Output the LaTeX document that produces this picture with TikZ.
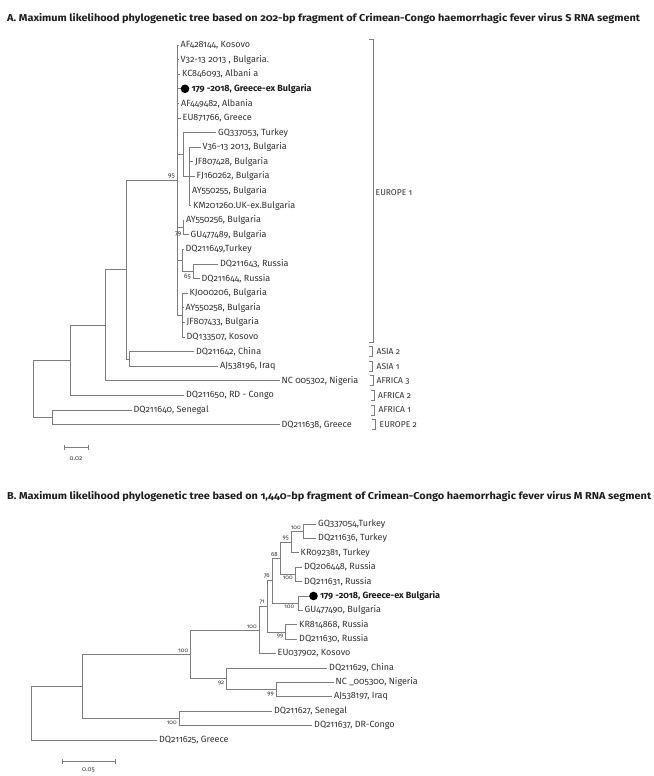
\documentclass[tikz,border=0pt]{standalone}
\usepackage{fontspec}
\setmainfont{Fira Sans}[Numbers=OldStyle]
\usepackage{graphicx}
\definecolor{lc}{RGB}{125,125,125}
\definecolor{tc}{RGB}{50,50,50}
\definecolor{hc}{RGB}{30,30,30}
\newlength\titlewd
\newcommand\myTitleA{A. Maximum likelihood phylogenetic tree based on 202-bp fragment of Crimean-Congo haemorrhagic fever virus S RNA segment}
\newcommand\myTitleB{B. Maximum likelihood phylogenetic tree based on 1,440-bp fragment of Crimean-Congo haemorrhagic fever virus M RNA segment}
\newcommand\mytitlefont{\fontsize{10}{12}\selectfont\bfseries}
\begin{document}
\settowidth{\titlewd}{\mytitlefont\myTitleA}%
\pgfmathsetmacro\tscale{633/\titlewd}%
\begin{tikzpicture}[x=1pt,y=-1pt,
  branch/.style={draw=lc,line width=0.75pt},
  tip/.style={anchor=west,inner xsep=2pt,inner ysep=0pt,font=\fontsize{9}{10}\selectfont,text=tc},
  tipbold/.style={tip,font=\fontsize{9}{10}\selectfont\bfseries,text=hc},
  dotnode/.style={circle,fill=black,inner sep=0pt,minimum size=8.6pt},
  bootA/.style={inner sep=0.6pt,font=\fontsize{6.5}{7}\selectfont,text=tc},
  bootB/.style={inner sep=0.6pt,font=\fontsize{6}{7}\selectfont,text=tc},
  cladelbl/.style={anchor=west,inner sep=0pt,font=\fontsize{8.5}{9}\selectfont,text=tc},
  brk/.style={draw=lc,line width=0.7pt},
  scalelbl/.style={inner sep=0pt,font=\fontsize{6.5}{7}\selectfont,text=tc}]
\useasboundingbox (0,0) rectangle (653,776);
\fill[white] (0,0) rectangle (653,776);
\node[anchor=west,inner sep=0pt,text=hc] (titleA) at (7,18.3) {\scalebox{\tscale}[1]{\mytitlefont\myTitleA}};
\node[anchor=west,inner sep=0pt,text=hc] (titleB) at (7,497) {\scalebox{\tscale}[1]{\mytitlefont\myTitleB}};

% ---------------- Tree A ----------------
\coordinate (R) at (33,388.8);
\coordinate (A1) at (70.7,360.3);
\coordinate (A2) at (52.7,417.3);
\coordinate (B) at (105,325.1);
\coordinate (C) at (126.7,269.5);
\coordinate (E) at (129.3,358.9);
\coordinate (D) at (177,180.05);
\coordinate (F) at (183,154.5);
\coordinate (G) at (189,176.4);
\coordinate (H) at (183,227.5);
\coordinate (I) at (182,260.35);
\coordinate (J) at (193,271.3);
\coordinate (K) at (182,315.1);

\node[tip] (a0) at (178.5,45.0) {AF428144, Kosovo};
\node[tip] (a1) at (178.5,59.6) {V32-13 2013 , Bulgaria.};
\node[tip] (a2) at (180,74.2) {KC846093, Albani a};
\node[tipbold] (a3) at (189.3,88.8) {179 -2018, Greece-ex Bulgaria};
\node[tip] (a4) at (179,103.4) {AF449482, Albania};
\node[tip] (a5) at (180.5,118.0) {EU871766, Greece};
\node[tip] (a6) at (216,132.6) {GQ337053, Turkey};
\node[tip] (a7) at (200.5,147.2) {V36-13 2013, Bulgaria};
\node[tip] (a8) at (193,161.8) {JF807428, Bulgaria};
\node[tip] (a9) at (194.5,176.4) {FJ160262, Bulgaria};
\node[tip] (a10) at (190,191.0) {AY550255, Bulgaria};
\node[tip] (a11) at (191,205.6) {KM201260.UK-ex.Bulgaria};
\node[tip] (a12) at (184,220.2) {AY550256, Bulgaria};
\node[tip] (a13) at (188.5,234.8) {GU477489, Bulgaria};
\node[tip] (a14) at (183.5,249.4) {DQ211649,Turkey};
\node[tip] (a15) at (218,264.0) {DQ211643, Russia};
\node[tip] (a16) at (199.5,278.6) {DQ211644, Russia};
\node[tip] (a17) at (187.5,293.2) {KJ000206, Bulgaria};
\node[tip] (a18) at (183.5,307.8) {AY550258, Bulgaria};
\node[tip] (a19) at (184.5,322.4) {JF807433, Bulgaria};
\node[tip] (a20) at (184.5,337.0) {DQ133507, Kosovo};
\node[tip] (a21) at (194,351.6) {DQ211642, China};
\node[tip] (a22) at (218,366.2) {AJ538196, Iraq};
\node[tip] (a23) at (279.5,380.8) {NC 005302, Nigeria};
\node[tip] (a24) at (184,395.4) {DQ211650, RD - Congo};
\node[tip] (a25) at (131.5,410.0) {DQ211640, Senegal};
\node[tip] (a26) at (279.5,424.6) {DQ211638, Greece};
\coordinate (adotc) at (185,88.8);

\draw[branch] (R) |- (A1);
\draw[branch] (R) |- (A2);
\draw[branch] (A1) |- (B);
\draw[branch] (A1) |- (a24.west);
\draw[branch] (B) |- (C);
\draw[branch] (B) |- (a23.west);
\draw[branch] (C) |- (D);
\draw[branch] (C) |- (E);
\draw[branch] (E) |- (a21.west);
\draw[branch] (E) |- (a22.west);
\draw[branch] (A2) |- (a25.west);
\draw[branch] (A2) |- (a26.west);
\foreach \t in {a0,a1,a2,a4,a5} \draw[branch] (D) |- (\t.west);
\draw[branch] (D) |- (adotc);
\draw[branch] (D) |- (F);
\draw[branch] (D) |- (H);
\draw[branch] (D) |- (I);
\draw[branch] (D) |- (K);
\draw[branch] (F) |- (a6.west);
\draw[branch] (F) |- (G);
\foreach \t in {a7,a8,a9,a10,a11} \draw[branch] (G) |- (\t.west);
\draw[branch] (H) |- (a12.west);
\draw[branch] (H) |- (a13.west);
\draw[branch] (I) |- (a14.west);
\draw[branch] (I) |- (J);
\draw[branch] (J) |- (a15.west);
\draw[branch] (J) |- (a16.west);
\foreach \t in {a17,a18,a19,a20} \draw[branch] (K) |- (\t.west);
\node[dotnode] (adot) at (adotc) {};

\node[bootA,anchor=south east] (bs95) at (175.5,179) {95};
\node[bootA,anchor=north east] (bs79) at (182,230.5) {79};
\node[bootA,anchor=north east] (bs65) at (191.5,273.5) {65};

% clade brackets A
\draw[brk] (369,39) -- (373,39) -- (373,342) -- (369,342);
\node[cladelbl] (eu1) at (375.5,192.7) {EUROPE 1};
\draw[brk] (368.5,346.6) -- (372,346.6) -- (372,356.6) -- (368.5,356.6);
\node[cladelbl] (as2) at (376.5,351.6) {ASIA 2};
\draw[brk] (368.5,361.2) -- (372,361.2) -- (372,371.2) -- (368.5,371.2);
\node[cladelbl] (as1) at (376.5,366.2) {ASIA 1};
\draw[brk] (369.5,375.8) -- (373,375.8) -- (373,385.8) -- (369.5,385.8);
\node[cladelbl] (af3) at (376.5,380.8) {AFRICA 3};
\draw[brk] (370.5,390.4) -- (374,390.4) -- (374,400.4) -- (370.5,400.4);
\node[cladelbl] (af2) at (378,395.4) {AFRICA 2};
\draw[brk] (370.5,405) -- (374,405) -- (374,415) -- (370.5,415);
\node[cladelbl] (af1) at (378.5,410) {AFRICA 1};
\draw[brk] (371.5,419.6) -- (375,419.6) -- (375,429.6) -- (371.5,429.6);
\node[cladelbl] (eu2) at (379.5,424.6) {EUROPE 2};

% scale bar A
\coordinate (sa1) at (64,447.5);
\coordinate (sa2) at (88,447.5);
\draw[branch] (sa1) -- (sa2);
\draw[branch] ([yshift=2.5pt]sa1) -- ([yshift=-2.5pt]sa1);
\draw[branch] ([yshift=2.5pt]sa2) -- ([yshift=-2.5pt]sa2);
\node[scalelbl] (sla) at (76,458.5) {0.02};

% ---------------- Tree B ----------------
\coordinate (RB) at (31.7,713.2);
\coordinate (NX) at (82.7,686.4);
\coordinate (N100b) at (190.7,654.4);
\coordinate (N100d) at (179,718.4);
\coordinate (N100a) at (259.3,630);
\coordinate (N92) at (226.7,678.8);
\coordinate (N99) at (276,689.6);
\coordinate (N71) at (267,606.35);
\coordinate (N76) at (272,580.7);
\coordinate (NKR) at (285.7,632);
\coordinate (N68) at (280,558.2);
\coordinate (Ndot) at (298,603.2);
\coordinate (N95) at (291,542);
\coordinate (NRus) at (295,574.4);
\coordinate (N100c) at (303.3,531.2);

\node[tip] (b0) at (316,524.0) {GQ337054,Turkey};
\node[tip] (b1) at (316,538.4) {DQ211636, Turkey};
\node[tip] (b2) at (298.5,552.8) {KR092381, Turkey};
\node[tip] (b3) at (302,567.2) {DQ206448, Russia};
\node[tip] (b4) at (302,581.6) {DQ211631, Russia};
\node[tipbold] (b5) at (317.8,596.0) {179 -2018, Greece-ex Bulgaria};
\node[tip] (b6) at (302.5,610.4) {GU477490, Bulgaria};
\node[tip] (b7) at (297,624.8) {KR814868, Russia};
\node[tip] (b8) at (297,639.2) {DQ211630, Russia};
\node[tip] (b9) at (275.5,653.6) {EU037902, Kosovo};
\node[tip] (b10) at (327,668.0) {DQ211629, China};
\node[tip] (b11) at (333.5,682.4) {NC \_005300, Nigeria};
\node[tip] (b12) at (332,696.8) {AJ538197, Iraq};
\node[tip] (b13) at (272,711.2) {DQ211627, Senegal};
\node[tip] (b14) at (312,725.6) {DQ211637, DR-Congo};
\node[tip] (b15) at (157,740.0) {DQ211625, Greece};
\coordinate (bdotc) at (313.5,596.0);

\draw[branch] (RB) |- (NX);
\draw[branch] (RB) |- (b15.west);
\draw[branch] (NX) |- (N100b);
\draw[branch] (NX) |- (N100d);
\draw[branch] (N100b) |- (N100a);
\draw[branch] (N100b) |- (N92);
\draw[branch] (N100a) |- (N71);
\draw[branch] (N100a) |- (b9.west);
\draw[branch] (N71) |- (N76);
\draw[branch] (N71) |- (NKR);
\draw[branch] (N76) |- (N68);
\draw[branch] (N76) |- (Ndot);
\draw[branch] (N68) |- (N95);
\draw[branch] (N68) |- (NRus);
\draw[branch] (N95) |- (N100c);
\draw[branch] (N95) |- (b2.west);
\draw[branch] (N100c) |- (b0.west);
\draw[branch] (N100c) |- (b1.west);
\draw[branch] (NRus) |- (b3.west);
\draw[branch] (NRus) |- (b4.west);
\draw[branch] (Ndot) |- (bdotc);
\draw[branch] (Ndot) |- (b6.west);
\draw[branch] (NKR) |- (b7.west);
\draw[branch] (NKR) |- (b8.west);
\draw[branch] (N92) |- (b10.west);
\draw[branch] (N92) |- (N99);
\draw[branch] (N99) |- (b11.west);
\draw[branch] (N99) |- (b12.west);
\draw[branch] (N100d) |- (b13.west);
\draw[branch] (N100d) |- (b14.west);
\node[dotnode] (bdot) at (bdotc) {};

\node[bootB,anchor=south east] (bb1) at (301.5,530) {100};
\node[bootB,anchor=south east] (bb2) at (289.5,541) {95};
\node[bootB,anchor=south east] (bb3) at (278.5,557) {68};
\node[bootB,anchor=south east] (bb4) at (270.5,579) {76};
\node[bootB,anchor=south east] (bb5) at (265.5,605) {71};
\node[bootB,anchor=north east] (bb6) at (293.5,575.5) {100};
\node[bootB,anchor=north east] (bb7) at (295,604.5) {100};
\node[bootB,anchor=north east] (bb8) at (284,633.2) {99};
\node[bootB,anchor=south east] (bb9) at (257.5,629) {100};
\node[bootB,anchor=south east] (bb10) at (189,653.2) {100};
\node[bootB,anchor=north east] (bb11) at (225,680.2) {92};
\node[bootB,anchor=north east] (bb12) at (274.5,691) {99};
\node[bootB,anchor=north east] (bb13) at (177.5,719.8) {100};

% scale bar B
\coordinate (sb1) at (62,761.5);
\coordinate (sb2) at (115,761.5);
\draw[branch] (sb1) -- (sb2);
\draw[branch] ([yshift=2.5pt]sb1) -- ([yshift=-2.5pt]sb1);
\draw[branch] ([yshift=2.5pt]sb2) -- ([yshift=-2.5pt]sb2);
\node[scalelbl] (slb) at (88.5,770.5) {0.05};
\end{tikzpicture}
\end{document}
